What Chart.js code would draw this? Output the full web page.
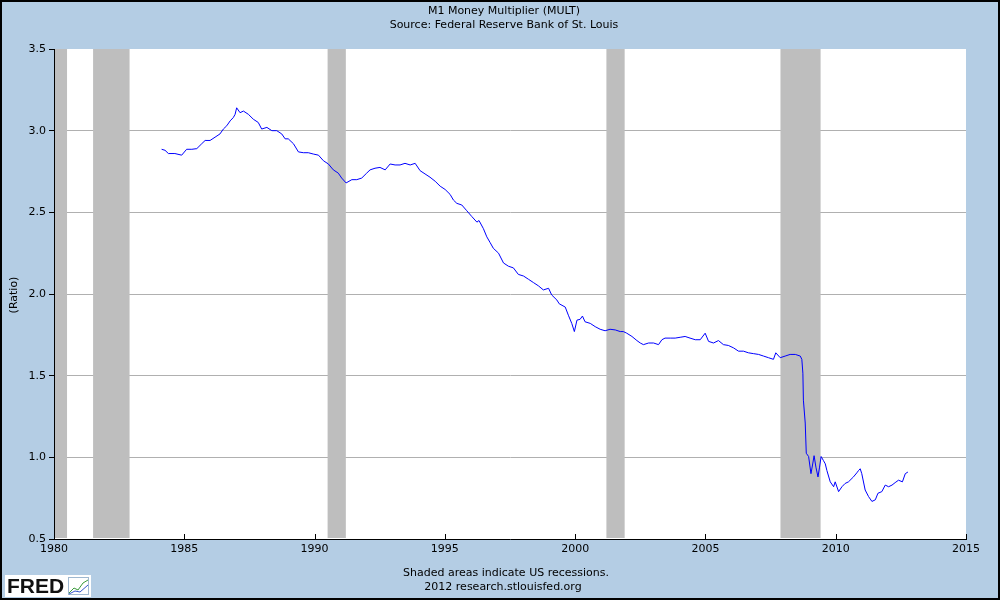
<!DOCTYPE html>
<html>
<head>
<meta charset="utf-8">
<script src="https://cdn.jsdelivr.net/npm/chart.js@4.4.0/dist/chart.umd.min.js"></script>
<style>
  html, body { margin: 0; padding: 0; background: #b4cde4; }
</style>
</head>
<body>
<canvas id="mult-chart" width="1000" height="600"></canvas>
<script>
// M1 money multiplier (decimal years)
const years = [
  1984.13, 1984.26, 1984.39, 1984.64, 1984.90, 1985.09, 1985.29, 1985.48, 1985.67, 1985.80, 1985.99,
  1986.18, 1986.37, 1986.50, 1986.63, 1986.76, 1986.88, 1986.95, 1987.01, 1987.14, 1987.27, 1987.46,
  1987.65, 1987.84, 1987.97, 1988.17, 1988.36, 1988.55, 1988.74, 1988.87, 1988.99,
  1989.19, 1989.38, 1989.57, 1989.76, 1989.95, 1990.15, 1990.34, 1990.53, 1990.72, 1990.91, 1991.04,
  1991.21, 1991.43, 1991.62, 1991.81, 1992.00, 1992.13, 1992.32, 1992.51, 1992.71, 1992.90, 1993.09,
  1993.28, 1993.47, 1993.67, 1993.86,
  1994.05, 1994.24, 1994.43, 1994.63, 1994.82, 1995.01, 1995.20, 1995.33, 1995.46, 1995.65, 1995.84,
  1996.03, 1996.23, 1996.31, 1996.48, 1996.61, 1996.74, 1996.86, 1997.06, 1997.25, 1997.44, 1997.63,
  1997.82, 1998.02, 1998.21, 1998.40, 1998.59, 1998.78, 1998.98, 1999.10, 1999.30, 1999.39,
  1999.62, 1999.74, 1999.87, 1999.97, 2000.07, 2000.19, 2000.28, 2000.38, 2000.58, 2000.77, 2000.96,
  2001.15, 2001.34, 2001.54, 2001.73, 2001.85, 2001.98, 2002.18, 2002.37, 2002.50, 2002.62, 2002.82,
  2003.01, 2003.20, 2003.33, 2003.45, 2003.65, 2003.84, 2004.03, 2004.22, 2004.41, 2004.61,
  2004.80, 2004.99, 2005.12, 2005.31, 2005.50, 2005.69, 2005.88, 2006.08, 2006.27, 2006.46, 2006.65,
  2006.84, 2007.04, 2007.23, 2007.42, 2007.61, 2007.70, 2007.87, 2008.06, 2008.25, 2008.45, 2008.64,
  2008.70, 2008.74, 2008.76, 2008.83, 2008.87, 2008.96, 2009.05, 2009.11, 2009.17, 2009.24, 2009.32,
  2009.38, 2009.44, 2009.53,
  2009.60, 2009.66, 2009.79, 2009.92, 2009.98, 2010.11, 2010.24, 2010.36, 2010.49, 2010.68, 2010.81,
  2010.88, 2010.94, 2011.00, 2011.13, 2011.26, 2011.39, 2011.52, 2011.62, 2011.77, 2011.90, 2012.03,
  2012.16, 2012.28, 2012.41, 2012.56, 2012.67, 2012.77
];
const ratio = [
  2.886, 2.88, 2.86, 2.86, 2.85, 2.886, 2.886, 2.89, 2.92, 2.94, 2.94,
  2.96, 2.98, 3.01, 3.03, 3.06, 3.08, 3.10, 3.14, 3.11, 3.12, 3.10,
  3.07, 3.05, 3.01, 3.02, 3.00, 3.00, 2.98, 2.95, 2.95,
  2.92, 2.87, 2.865, 2.865, 2.857, 2.85, 2.816, 2.796, 2.76, 2.74, 2.71,
  2.68, 2.70, 2.70, 2.71, 2.74, 2.76, 2.77, 2.775, 2.76, 2.796, 2.79,
  2.79, 2.80, 2.79, 2.80,
  2.755, 2.735, 2.715, 2.69, 2.66, 2.64, 2.61, 2.575, 2.555, 2.545, 2.51,
  2.475, 2.44, 2.45, 2.40, 2.35, 2.314, 2.28, 2.25, 2.19, 2.17, 2.16,
  2.12, 2.11, 2.09, 2.07, 2.05, 2.025, 2.035, 1.994, 1.963, 1.94,
  1.92, 1.87, 1.82, 1.77, 1.84, 1.845, 1.865, 1.83, 1.82, 1.80, 1.784,
  1.775, 1.784, 1.78, 1.77, 1.77, 1.76, 1.74, 1.715, 1.70, 1.69, 1.70,
  1.70, 1.69, 1.72, 1.73, 1.73, 1.73, 1.735, 1.74, 1.73, 1.72,
  1.72, 1.76, 1.71, 1.70, 1.715, 1.69, 1.685, 1.67, 1.65, 1.65, 1.64,
  1.635, 1.63, 1.62, 1.61, 1.60, 1.64, 1.61, 1.62, 1.63, 1.63, 1.62,
  1.60, 1.515, 1.35, 1.21, 1.025, 1.005, 0.90, 0.953, 1.01, 0.94, 0.88,
  0.94, 1.005, 0.98,
  0.96, 0.92, 0.85, 0.82, 0.85, 0.79, 0.82, 0.84, 0.85, 0.88, 0.905,
  0.92, 0.93, 0.90, 0.80, 0.76, 0.73, 0.74, 0.78, 0.79, 0.83, 0.82,
  0.83, 0.845, 0.86, 0.85, 0.90, 0.91
];

// US recessions (start, end)
const recessionStart = [1980.0, 1981.5, 1990.5, 2001.2, 2007.88];
const recessionEnd   = [1980.5, 1982.9, 1991.2, 2001.9, 2009.42];

const yTicks = [0.5, 1.0, 1.5, 2.0, 2.5, 3.0, 3.5];
const xTicks = [1980, 1985, 1990, 1995, 2000, 2005, 2010, 2015];

const FONT = '"DejaVu Sans", Verdana, sans-serif';
Chart.defaults.font.family = FONT;
Chart.defaults.font.size = 11;
Chart.defaults.color = '#000';

// background, recession shading, texts
const fredDecor = {
  id: 'fredDecor',
  beforeDraw(chart) {
    const { ctx, chartArea: a } = chart;
    ctx.save();
    ctx.fillStyle = '#b4cde4';
    ctx.fillRect(0, 0, chart.width, chart.height);
    ctx.fillStyle = '#fff';
    ctx.fillRect(a.left, a.top, a.right - a.left, a.bottom - a.top);
    ctx.restore();
  },
  beforeDatasetsDraw(chart) {
    const { ctx, chartArea: a, scales: { x } } = chart;
    ctx.save();
    ctx.fillStyle = '#bebebe';
    for (let i = 0; i < recessionStart.length; i++) {
      const x0 = Math.max(x.getPixelForValue(recessionStart[i]), a.left);
      const x1 = x.getPixelForValue(recessionEnd[i]);
      ctx.fillRect(x0, a.top, x1 - x0, a.bottom - a.top - 1);
    }
    // redraw the left axis line over the first bar
    ctx.strokeStyle = '#000';
    ctx.lineWidth = 1;
    ctx.beginPath();
    ctx.moveTo(Math.round(a.left) + 0.5, a.top);
    ctx.lineTo(Math.round(a.left) + 0.5, a.bottom);
    ctx.stroke();
    // inward x ticks
    xTicks.forEach(t => {
      const px = Math.round(x.getPixelForValue(t)) + 0.5;
      ctx.beginPath();
      ctx.moveTo(px, a.bottom);
      ctx.lineTo(px, a.bottom - 5);
      ctx.stroke();
    });
    ctx.restore();
  },
  afterDraw(chart) {
    const { ctx } = chart;
    ctx.save();
    ctx.fillStyle = '#000';
    ctx.font = '11px ' + FONT;
    ctx.textAlign = 'center';
    ctx.textBaseline = 'middle';
    ctx.fillText('M1 Money Multiplier (MULT)', 504, 11);
    ctx.fillText('Source: Federal Reserve Bank of St. Louis', 504, 25);
    ctx.fillText('Shaded areas indicate US recessions.', 506, 573);
    ctx.fillText('2012 research.stlouisfed.org', 503, 587);

    ctx.save();
    ctx.translate(14, 295);
    ctx.rotate(-Math.PI / 2);
    ctx.fillText('(Ratio)', 0, 0);
    ctx.restore();

    // FRED logo
    ctx.fillStyle = '#fff';
    ctx.fillRect(5, 575, 86, 22);
    ctx.fillStyle = '#111';
    ctx.font = 'bold 21px "Liberation Sans", Arial, sans-serif';
    ctx.textAlign = 'left';
    ctx.fillText('FRED', 7, 587);
    ctx.strokeStyle = '#9fb8d0';
    ctx.lineWidth = 1;
    ctx.strokeRect(68.5, 577.5, 20, 17);
    ctx.strokeStyle = '#3a9a3a';
    ctx.beginPath();
    ctx.moveTo(69, 593); ctx.lineTo(74, 588); ctx.lineTo(78, 590); ctx.lineTo(83, 583); ctx.lineTo(88, 580);
    ctx.stroke();
    ctx.strokeStyle = '#3355cc';
    ctx.beginPath();
    ctx.moveTo(69, 594); ctx.lineTo(75, 591); ctx.lineTo(80, 592); ctx.lineTo(88, 585);
    ctx.stroke();

    // outer frame
    ctx.strokeStyle = '#000';
    ctx.lineWidth = 2;
    ctx.strokeRect(1, 1, chart.width - 2, chart.height - 2);
    ctx.restore();
  }
};

new Chart(document.getElementById('mult-chart'), {
  type: 'line',
  data: {
    datasets: [{
      label: 'MULT',
      data: years.map((yr, i) => ({ x: yr, y: ratio[i] })),
      borderColor: '#0000ff',
      borderWidth: 1,
      pointRadius: 0,
      tension: 0,
      fill: false
    }]
  },
  options: {
    responsive: false,
    animation: false,
    layout: { padding: { top: 49, right: 34, left: 0, bottom: 0 } },
    plugins: {
      legend: { display: false },
      tooltip: { enabled: false }
    },
    scales: {
      x: {
        type: 'linear',
        min: 1980,
        max: 2015,
        afterFit: s => { s.height = 61; },
        afterBuildTicks: s => { s.ticks = xTicks.map(v => ({ value: v })); },
        ticks: { padding: 4, maxRotation: 0, autoSkip: false, callback: v => String(v) },
        grid: { drawOnChartArea: false, drawTicks: false },
        border: { color: '#000', width: 1 }
      },
      y: {
        min: 0.5,
        max: 3.5,
        afterFit: s => { s.width = 54; },
        afterBuildTicks: s => { s.ticks = yTicks.map(v => ({ value: v })); },
        ticks: { padding: 3, callback: v => v.toFixed(1) },
        grid: {
          color: c => (c.tick && (c.tick.value === 3.5 || c.tick.value === 0.5)) ? 'rgba(0,0,0,0)' : '#b0b0b0',
          tickColor: '#000',
          tickLength: 5
        },
        border: { color: '#000', width: 1 }
      }
    }
  },
  plugins: [fredDecor]
});
</script>
</body>
</html>
